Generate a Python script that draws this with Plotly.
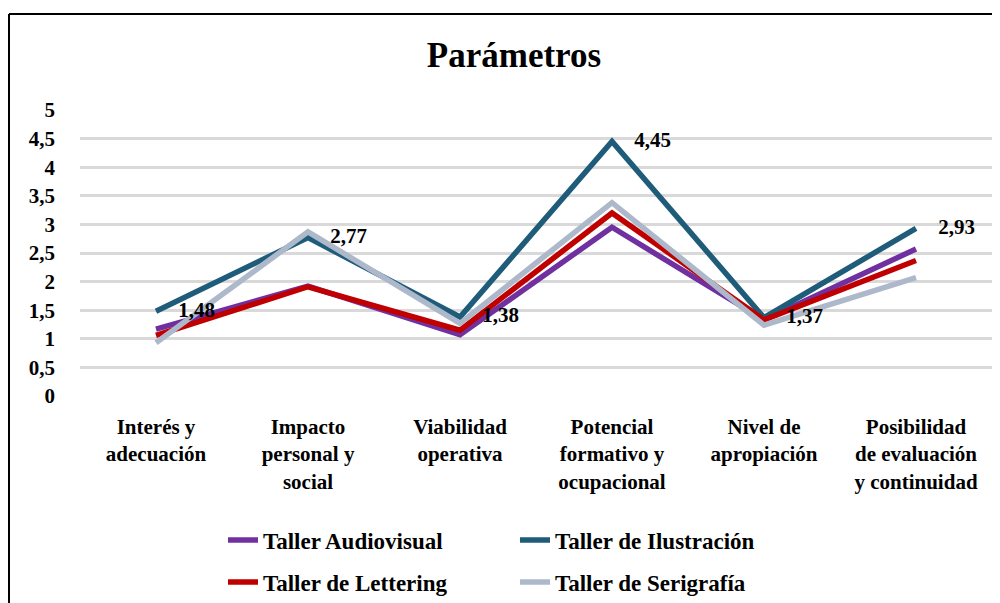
import plotly.graph_objects as go

categories = [
    "Interés y<br>adecuación",
    "Impacto<br>personal y<br>social",
    "Viabilidad<br>operativa",
    "Potencial<br>formativo y<br>ocupacional",
    "Nivel de<br>apropiación",
    "Posibilidad<br>de evaluación<br>y continuidad",
]

audiovisual = [1.17, 1.92, 1.07, 2.95, 1.33, 2.57]
ilustracion = [1.48, 2.77, 1.38, 4.45, 1.37, 2.93]
lettering = [1.06, 1.91, 1.15, 3.20, 1.33, 2.37]
serigrafia = [0.93, 2.87, 1.27, 3.38, 1.24, 2.07]

y_ticks = [0, 0.5, 1, 1.5, 2, 2.5, 3, 3.5, 4, 4.5, 5]

FONT = "Liberation Serif"
W, H = 992, 595  # page adds an 8px body margin


def line_trace(name, values, color, legend):
    return go.Scatter(x=categories, y=values, name=name, legend=legend,
                      mode="lines", line=dict(color=color, width=5.5))


fig = go.Figure()
fig.add_trace(line_trace("Taller Audiovisual", audiovisual, "#7030A0", "legend"))
fig.add_trace(line_trace("Taller de Ilustración", ilustracion, "#1E5C7A", "legend"))
fig.add_trace(line_trace("Taller de Lettering", lettering, "#C00000", "legend2"))
fig.add_trace(line_trace("Taller de Serigrafía", serigrafia, "#ADB9CA", "legend2"))

# data labels of the Ilustración series, drawn on top of all lines
fig.add_trace(go.Scatter(x=categories, y=ilustracion, mode="markers+text", showlegend=False,
                         texttemplate="%{y:.2f}", textposition="middle right",
                         marker=dict(size=34, color="rgba(0,0,0,0)"),
                         textfont=dict(family=FONT, size=21, color="black", weight="bold"),
                         hoverinfo="skip"))

legend_style = dict(orientation="h", xref="container", yref="container",
                    x=215 / W, xanchor="left", yanchor="middle",
                    entrywidth=247, entrywidthmode="pixels",
                    font=dict(family=FONT, size=23, color="black", weight="bold"),
                    bgcolor="rgba(0,0,0,0)")

fig.update_layout(
    width=W, height=H,
    margin=dict(l=72, r=8, t=102, b=207),
    paper_bgcolor="white", plot_bgcolor="white",
    separators=",.",
    title=dict(text="<b>Parámetros</b>", x=506 / W, xanchor="center",
               y=1 - 47 / H, yanchor="middle",
               font=dict(family=FONT, size=35, color="black")),
    legend=dict(legend_style, y=1 - 532 / H),
    legend2=dict(legend_style, y=1 - 574 / H),
    font=dict(family=FONT, color="black"),
)

fig.update_xaxes(type="category", range=[-0.5, 5.5], showgrid=False, showline=False,
                 ticks="", ticklabelstandoff=16,
                 tickfont=dict(family=FONT, size=21, color="black", weight="bold"))
fig.update_yaxes(range=[0, 5], tickvals=y_ticks, showgrid=True, gridcolor="#D9D9D9",
                 gridwidth=2.5, zeroline=False, showline=False, ticks="",
                 ticklabelstandoff=24,
                 tickfont=dict(family=FONT, size=21, color="black", weight="bold"))

# outer chart frame (top and left edges visible in the reference)
top = (388 - 6) / 286
left = (1 - 72) / 912
fig.add_shape(type="line", xref="paper", yref="paper",
              x0=left, x1=(W - 72) / 912, y0=top, y1=top,
              line=dict(color="black", width=2))
fig.add_shape(type="line", xref="paper", yref="paper",
              x0=left, x1=left, y0=top, y1=(388 - H) / 286,
              line=dict(color="black", width=2))

fig.write_html("out.html")
